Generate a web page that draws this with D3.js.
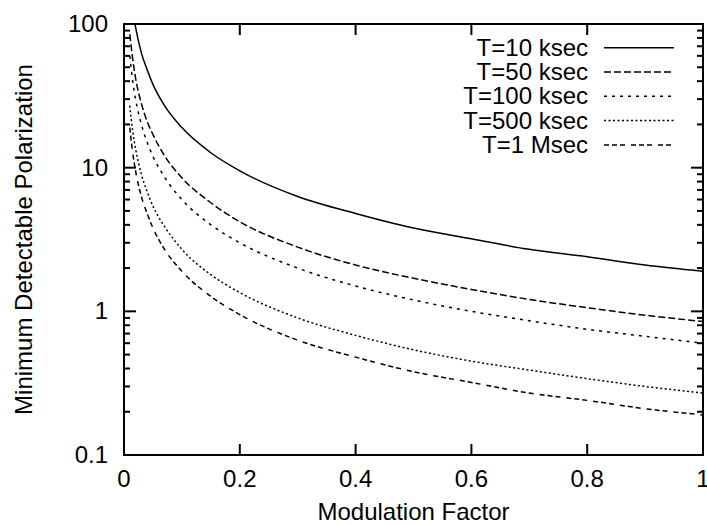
<!DOCTYPE html>
<html>
<head>
<meta charset="utf-8">
<script src="https://cdn.jsdelivr.net/npm/d3@7"></script>
<style>
  body { margin: 0; background: #fff; }
  svg { display: block; }
  text { font-family: "Liberation Sans", Arial, sans-serif; fill: #000; }
</style>
</head>
<body>
<svg id="chart"></svg>
<script>
const width = 707;
const height = 525;

// modulation factor samples
var modFactor = [0.01, 0.015, 0.02, 0.03, 0.04, 0.05, 0.07, 0.1, 0.15, 0.2, 0.3, 0.4, 0.5, 0.6, 0.7, 0.8, 0.9, 1.0];

// minimum detectable polarization
var mdp10k  = [190, 127, 95, 63, 48, 38, 27, 19, 12.7, 9.5, 6.3, 4.8, 3.8, 3.2, 2.7, 2.4, 2.1, 1.9];
var mdp50k  = [85, 57, 42, 28, 21, 17, 12.1, 8.5, 5.7, 4.2, 2.8, 2.1, 1.7, 1.42, 1.21, 1.06, 0.94, 0.85];
var mdp100k = [60, 40, 30, 20, 15, 12, 8.6, 6.0, 4.0, 3.0, 2.0, 1.5, 1.2, 1.0, 0.86, 0.75, 0.67, 0.60];
var mdp500k = [27, 18, 13.5, 9.0, 6.8, 5.4, 3.9, 2.7, 1.8, 1.35, 0.90, 0.68, 0.54, 0.45, 0.39, 0.34, 0.30, 0.27];
var mdp1M   = [19, 12.7, 9.5, 6.3, 4.8, 3.8, 2.7, 1.9, 1.27, 0.95, 0.63, 0.48, 0.38, 0.32, 0.27, 0.24, 0.21, 0.19];

var seriesNames = ["T=10 ksec", "T=50 ksec", "T=100 ksec", "T=500 ksec", "T=1 Msec"];
var seriesValues = [mdp10k, mdp50k, mdp100k, mdp500k, mdp1M];
var dashes = [null, "7,3", "3,5", "2,2.5", "5,3,5,3,5,6"];

var xTicks = [0, 0.2, 0.4, 0.6, 0.8, 1];
var xTickLabels = ["0", "0.2", "0.4", "0.6", "0.8", "1"];
var yTicks = [0.1, 1, 10, 100];
var yTickLabels = ["0.1", "1", "10", "100"];

// plot box (note: "top" is reserved on window, so use pl/pr/pt/pb)
var pl = 124, pr = 703, pt = 24, pb = 455;
var fontSize = "24px";

var xScale = d3.scaleLinear().domain([0, 1]).range([pl, pr]);
var yScale = d3.scaleLog().domain([0.1, 100]).range([pb, pt]);

var svg = d3.select("#chart").attr("width", width).attr("height", height);

svg.append("defs").append("clipPath").attr("id", "plotclip")
  .append("rect")
  .attr("x", pl).attr("y", pt)
  .attr("width", pr - pl).attr("height", pb - pt);

// minor ticks on log axis
var minorY = [];
[0.1, 1, 10].forEach(function(dec) {
  for (let k = 2; k <= 9; k++) minorY.push(dec * k);
});

var tickG = svg.append("g").attr("stroke", "#000").attr("stroke-width", 2);

// x ticks, bottom and top
xTicks.forEach(function(t) {
  tickG.append("line").attr("x1", xScale(t)).attr("x2", xScale(t)).attr("y1", pb).attr("y2", pb - 11);
  tickG.append("line").attr("x1", xScale(t)).attr("x2", xScale(t)).attr("y1", pt).attr("y2", pt + 11);
});
// y ticks, left and right
yTicks.forEach(function(t) {
  tickG.append("line").attr("x1", pl).attr("x2", pl + 12).attr("y1", yScale(t)).attr("y2", yScale(t));
  tickG.append("line").attr("x1", pr).attr("x2", pr - 12).attr("y1", yScale(t)).attr("y2", yScale(t));
});
minorY.forEach(function(t) {
  tickG.append("line").attr("x1", pl).attr("x2", pl + 6).attr("y1", yScale(t)).attr("y2", yScale(t));
  tickG.append("line").attr("x1", pr).attr("x2", pr - 6).attr("y1", yScale(t)).attr("y2", yScale(t));
});

// tick labels
svg.selectAll(".xlab")
  .data(xTicks)
  .enter()
  .append("text")
  .attr("class", "xlab")
  .attr("x", d => xScale(d))
  .attr("y", 487)
  .attr("text-anchor", "middle")
  .style("font-size", fontSize)
  .text((d, i) => xTickLabels[i]);

svg.selectAll(".ylab")
  .data(yTicks)
  .enter()
  .append("text")
  .attr("class", "ylab")
  .attr("x", 108)
  .attr("y", d => yScale(d) + 8)
  .attr("text-anchor", "end")
  .style("font-size", fontSize)
  .text((d, i) => yTickLabels[i]);

// axis titles
svg.append("text")
  .attr("x", (pl + pr) / 2)
  .attr("y", 520)
  .attr("text-anchor", "middle")
  .style("font-size", fontSize)
  .text("Modulation Factor");

svg.append("text")
  .attr("transform", "translate(32," + ((pt + pb) / 2) + ") rotate(-90)")
  .attr("text-anchor", "middle")
  .style("font-size", fontSize)
  .text("Minimum Detectable Polarization");

// curves
var lineGenerator = d3.line()
  .x((d, i) => xScale(modFactor[i]))
  .y(d => yScale(d))
  .curve(d3.curveMonotoneX);

svg.append("g")
  .attr("clip-path", "url(#plotclip)")
  .selectAll("path")
  .data(seriesValues)
  .enter()
  .append("path")
  .attr("d", d => lineGenerator(d))
  .attr("fill", "none")
  .attr("stroke", "#000")
  .attr("stroke-width", 1.5)
  .attr("stroke-dasharray", (d, i) => dashes[i]);

// legend
var legend = svg.append("g");
seriesNames.forEach(function(name, i) {
  var yy = 47.7 + i * 24.3;
  legend.append("text")
    .attr("x", 588)
    .attr("y", yy + 8)
    .attr("text-anchor", "end")
    .style("font-size", fontSize)
    .text(name);
  legend.append("line")
    .attr("x1", 604).attr("x2", 674)
    .attr("y1", yy).attr("y2", yy)
    .attr("stroke", "#000")
    .attr("stroke-width", 1.5)
    .attr("stroke-dasharray", dashes[i]);
});

// frame
svg.append("rect")
  .attr("x", pl).attr("y", pt)
  .attr("width", pr - pl).attr("height", pb - pt)
  .attr("fill", "none")
  .attr("stroke", "#000")
  .attr("stroke-width", 2);
</script>
</body>
</html>
